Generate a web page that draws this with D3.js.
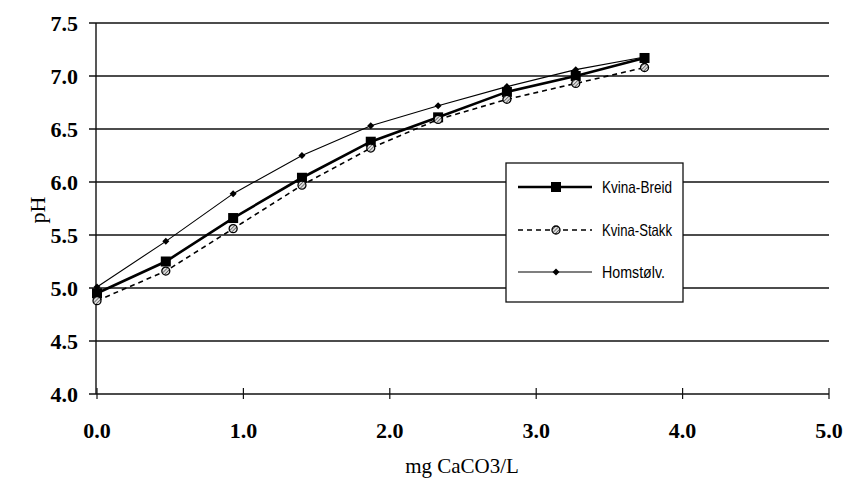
<!DOCTYPE html>
<html><head><meta charset="utf-8">
<script src="https://cdn.jsdelivr.net/npm/d3@7/dist/d3.min.js"></script>
<style>body{margin:0;background:#fff}svg{display:block}</style>
</head><body><svg id="c" width="848" height="483"></svg>
<script>
const xValues = [0, 0.47, 0.93, 1.40, 1.87, 2.33, 2.80, 3.27, 3.74];
const kvinaBreid = [4.95, 5.25, 5.66, 6.04, 6.38, 6.61, 6.85, 7.00, 7.17];
const kvinaStakk = [4.88, 5.16, 5.56, 5.97, 6.32, 6.59, 6.78, 6.93, 7.08];
const homstolv   = [5.01, 5.44, 5.89, 6.25, 6.53, 6.72, 6.90, 7.06, 7.18];
const seriesNames = ["Kvina-Breid", "Kvina-Stakk", "Homstølv."];
const xTicks = [0, 1, 2, 3, 4, 5];
const yTicks = [4.0, 4.5, 5.0, 5.5, 6.0, 6.5, 7.0, 7.5];
const xTitle = "mg CaCO3/L";
const yTitle = "pH";

const svg = d3.select("#c");
const defs = svg.append("defs");
const pat = defs.append("pattern").attr("id","hatch").attr("patternUnits","userSpaceOnUse")
  .attr("width",2.5).attr("height",2.5).attr("patternTransform","rotate(45)");
pat.append("rect").attr("width",2.5).attr("height",2.5).attr("fill","#ddd");
pat.append("line").attr("x1",0).attr("y1",0).attr("x2",0).attr("y2",2.5).attr("stroke","#333").attr("stroke-width",1.2);

const x = d3.scaleLinear().domain([0,5]).range([97,829]);
const y = d3.scaleLinear().domain([4,7.5]).range([394,23]);

const serif = "'Liberation Serif','Times New Roman',serif";
const sans = "'Liberation Sans',Arial,sans-serif";

// gridlines
svg.append("g").selectAll("line").data(yTicks).join("line")
  .attr("x1",89).attr("x2",829).attr("y1",d=>y(d)).attr("y2",d=>y(d))
  .attr("stroke","#111").attr("stroke-width",1.4);
// y axis line
svg.append("line").attr("x1",x(0)-1).attr("x2",x(0)-1).attr("y1",y(7.5)).attr("y2",y(4))
  .attr("stroke","#111").attr("stroke-width",1.4);
// x ticks
svg.append("g").selectAll("line").data(xTicks).join("line")
  .attr("x1",d=>x(d)).attr("x2",d=>x(d)).attr("y1",y(4)-6).attr("y2",y(4)+5)
  .attr("stroke","#111").attr("stroke-width",1.2);

// tick labels
svg.append("g").selectAll("text").data(yTicks).join("text")
  .attr("x",78).attr("y",d=>y(d)+7.5).attr("text-anchor","end")
  .attr("font-family",serif).attr("font-weight","bold").attr("font-size",22)
  .text(d=>d.toFixed(1));
svg.append("g").selectAll("text").data(xTicks).join("text")
  .attr("x",d=>x(d)).attr("y",438).attr("text-anchor","middle")
  .attr("font-family",serif).attr("font-weight","bold").attr("font-size",22)
  .text(d=>d.toFixed(1));

svg.append("text").attr("x",462).attr("y",473).attr("text-anchor","middle")
  .attr("font-family",serif).attr("font-size",21).text(xTitle);
svg.append("text").attr("transform","translate(45,210) rotate(-90)").attr("text-anchor","middle")
  .attr("font-family",serif).attr("font-size",22).text(yTitle);

const line = d3.line().x((d,i)=>x(xValues[i])).y(d=>y(d));
const styles = [
  {data:kvinaBreid, w:2.6, dash:null, marker:"square"},
  {data:kvinaStakk, w:1.6, dash:"5,4", marker:"circle"},
  {data:homstolv,   w:1.1, dash:null, marker:"diamond"}
];
function drawMarker(g, type, cx, cy){
  if(type==="square") g.append("rect").attr("x",cx-5).attr("y",cy-5).attr("width",10).attr("height",10).attr("fill","#000");
  else if(type==="circle") g.append("circle").attr("cx",cx).attr("cy",cy).attr("r",4).attr("fill","url(#hatch)").attr("stroke","#000").attr("stroke-width",1.3);
  else g.append("path").attr("d",`M${cx},${cy-3.5}L${cx+3.5},${cy}L${cx},${cy+3.5}L${cx-3.5},${cy}Z`).attr("fill","#000");
}
styles.forEach(s=>{
  svg.append("path").datum(s.data).attr("d",line).attr("fill","none").attr("stroke","#000")
    .attr("stroke-width",s.w).attr("stroke-dasharray",s.dash);
});
styles.forEach(s=>{
  const g = svg.append("g");
  s.data.forEach((v,i)=>drawMarker(g,s.marker,x(xValues[i]),y(v)));
});

// legend
const lg = svg.append("g");
lg.append("rect").attr("x",506).attr("y",163).attr("width",177).attr("height",139)
  .attr("fill","#fff").attr("stroke","#111").attr("stroke-width",1.3);
const ly = [187,230,272];
const lw = [70, 70, 63];
styles.forEach((s,i)=>{
  lg.append("line").attr("x1",518).attr("x2",592).attr("y1",ly[i]).attr("y2",ly[i])
    .attr("stroke","#000").attr("stroke-width",s.w).attr("stroke-dasharray",s.dash);
  drawMarker(lg,s.marker,556,ly[i]);
  lg.append("text").attr("x",602).attr("y",ly[i]+6).attr("font-family",sans).attr("font-size",16.5)
    .attr("textLength",lw[i]).attr("lengthAdjust","spacingAndGlyphs")
    .text(seriesNames[i]);
});
</script></body></html>
